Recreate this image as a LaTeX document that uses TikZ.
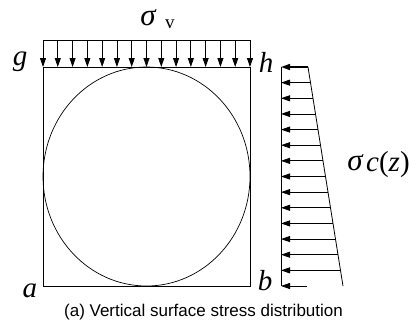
\documentclass[tikz,border=0pt]{standalone}
\usepackage{fontspec}
\setmainfont{Liberation Serif}
\newfontfamily\capfont{Liberation Sans}
\usetikzlibrary{arrows.meta}
\tikzset{
	load/.style={line width=0.8pt, -{Triangle[length=9pt,width=6pt]}},
	corner/.style={font=\fontsize{29}{29}\selectfont\itshape, inner sep=0pt, anchor=base},
}
\begin{document}
\begin{tikzpicture}[x=1pt, y=-1pt]
	\useasboundingbox (0,0) rectangle (416,324);
	% block and inscribed circle
	\coordinate (a) at (43,286);
	\coordinate (b) at (250,286);
	\coordinate (g) at (43,67);
	\coordinate (h) at (250,67);
	\draw[line width=0.9pt] (a) -- (b) -- (h) -- (g) -- cycle;
	\draw[line width=0.7pt] (146.5,176.5) ellipse [x radius=103.5, y radius=109.5];
	\node[corner] (la) at (30,297) {a};
	\node[corner] (lb) at (265,290) {b};
	\node[corner] (lg) at (20,65) {g};
	\node[corner] (lh) at (266,73) {h};

	% vertical load on top
	\draw[line width=0.8pt] (43,40) -- (250,40);
	\foreach \i in {0, 1, ..., 14}
		\draw[load] ({43+\i*207/14}, 40) -- ({43+\i*207/14}, 67);
	\node[font=\fontsize{31}{31}\selectfont\itshape, inner sep=0pt, anchor=base] (sv) at (148,25) {σ};
	\node[font=\fontsize{19}{19}\selectfont, inner sep=0pt, anchor=base west] (svsub) at (165,28) {v};

	% lateral load on the side
	\draw[line width=0.8pt] (281,67) -- (281,286);
	\draw[line width=0.8pt] (308,67) -- (343,286);
	\draw[load, line width=1.6pt] (308,67) -- (281,67);
	\foreach \i in {1, 2, ..., 13}
		\draw[load] ({308+\i*35/14}, {67+\i*219/14}) -- (281, {67+\i*219/14});
	\draw[load] (307,286) -- (281,286);
	\node[font=\fontsize{31}{31}\selectfont\itshape, inner sep=0pt, anchor=base] (sc) at (355,170) {σ};
	\node[font=\fontsize{29}{29}\selectfont, inner sep=0pt, anchor=base west] (scz) at (366,171) {\textit{c}(\textit{z})};

	\node[font=\capfont\fontsize{17}{17}\selectfont, inner sep=0pt, anchor=base] (cap) at (203.5,316) {(a) Vertical surface stress distribution};
\end{tikzpicture}
\end{document}
